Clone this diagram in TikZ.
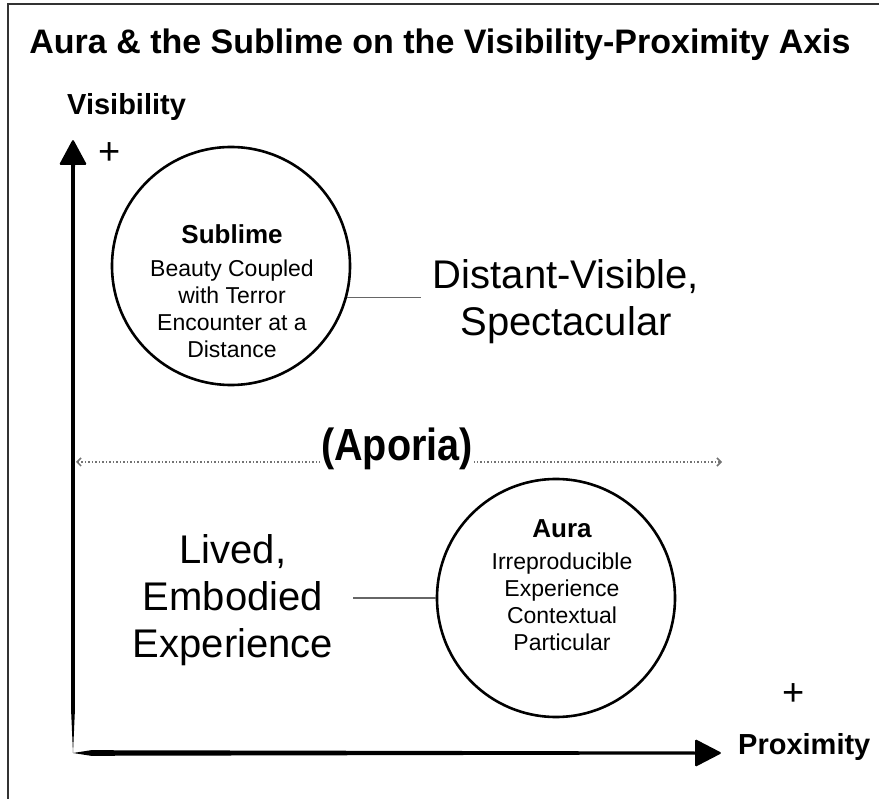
\documentclass[tikz,border=0pt]{standalone}
\usepackage{fontspec}
\usepackage{graphicx}
\setmainfont{Liberation Sans}
\usetikzlibrary{calc,arrows.meta}

\tikzset{
	bubble/.style={draw, circle, line width=2.6pt, minimum size=238pt, inner sep=0pt},
	bubbletext/.style={align=center, inner sep=0pt, anchor=north, font=\fontsize{23}{27}\selectfont},
	bigtext/.style={align=center, inner ysep=0pt, inner xsep=20pt, anchor=north, font=\fontsize{40}{47}\selectfont},
	axislabel/.style={inner sep=0pt, anchor=base west, font=\fontsize{29}{34}\selectfont\bfseries},
	plus/.style={inner sep=0pt, font=\fontsize{38}{40}\selectfont},
	link/.style={draw=black!60, line width=1pt},
}

\begin{document}
\begin{tikzpicture}[x=1pt, y=-1pt]
		\useasboundingbox (0,0) rectangle (879,799);
		\draw[black!80, line width=1.2pt] (8,799) -- (8,4) -- (879,4);

		\node[font=\fontsize{34}{40}\selectfont\bfseries, inner sep=0pt, anchor=base] (title) at (440,54) {Aura \& the Sublime on the Visibility-Proximity Axis};

		\coordinate (O) at (73,753);
		\coordinate (Y) at (73,139);
		\coordinate (X) at (722,753);

		\fill ($(Y)+(-2,26)$) -- ($(Y)+(2,26)$) -- ($(O)+(1.8,-40)$) -- (O) -- ($(O)+(-1.8,-40)$) -- cycle;
		\fill ($(O)+(0,0)$) -- ($(O)+(18,-2.8)$) -- ($(X)+(-27,-1.5)$) -- ($(X)+(-27,1.5)$) -- ($(O)+(18,2.8)$) -- cycle;
		\fill[rounded corners=1.5pt] (Y) -- ($(Y)+(14,26)$) -- ($(Y)+(-14,26)$) -- cycle;
		\fill[rounded corners=1.5pt] (X) -- ($(X)+(-27,-14)$) -- ($(X)+(-27,14)$) -- cycle;

		\node[axislabel] (vis) at (67,115) {Visibility};
		\node[plus] (vplus) at (110,154) {+};
		\node[axislabel] (prox) at (738,754) {Proximity};
		\node[plus] (pplus) at (794,695) {+};

		\node[bubble] (sublime) at (231,266) {};
		\node[bubbletext] (sublimetxt) at (232,224) {{\fontsize{26}{27}\selectfont\bfseries Sublime}\\[6pt] Beauty Coupled\\ with Terror\\ Encounter at a\\ Distance};
		\node[bubble] (aura) at (556,598) {};
		\node[bubbletext] (auratxt) at (562,519) {{\fontsize{26}{27}\selectfont\bfseries Aura}\\[5pt] Irreproducible\\ Experience\\ Contextual\\ Particular};

		\node[bigtext, inner xsep=12pt] (distant) at (566,259) {Distant-Visible,\\ Spectacular};
		\node[bigtext] (lived) at (233,534) {Lived,\\ Embodied\\ Experience};
		\draw[link] (sublime.-15) -- (sublime.-15 -| distant.west);
		\draw[link] (aura.west) -- (aura.west -| lived.east);

		\coordinate (al) at (76,462);
		\coordinate (ar) at (722,462);
		\draw[black!55, line width=1.5pt, dotted, {Straight Barb[length=4pt,width=8pt]}-{Straight Barb[length=4pt,width=8pt]}] (al) -- (ar);
		\node[font=\fontsize{45}{50}\selectfont\bfseries, fill=white, inner sep=1pt, anchor=base] (aporia) at (397,461) {\scalebox{0.88}[1]{(Aporia)}};

	\end{tikzpicture}
\end{document}
